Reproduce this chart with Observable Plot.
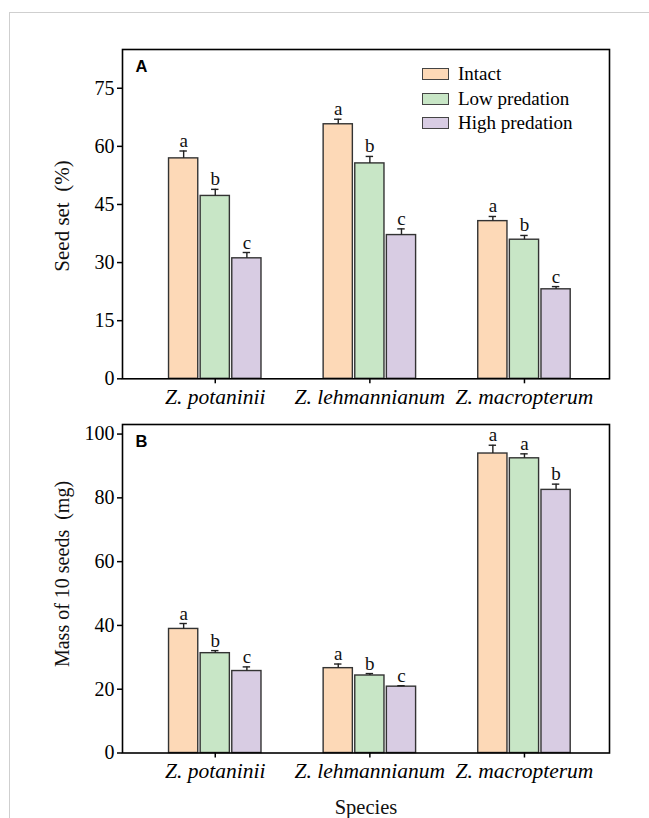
<!DOCTYPE html>
<html><head><meta charset="utf-8">
<script src="https://cdn.jsdelivr.net/npm/d3@7"></script>
<script src="https://cdn.jsdelivr.net/npm/@observablehq/plot@0.6"></script>
<style>
html,body{margin:0;padding:0;background:#fff;overflow:hidden;}
#page{position:relative;width:649px;height:818px;overflow:hidden;font-family:"Liberation Serif","Times New Roman",serif;}
#border{position:absolute;left:9px;top:12px;width:700px;height:900px;border:1px solid #cfcfcf;box-sizing:border-box;}
.panel{position:absolute;left:0;}
#pA{top:0;}
#pB{top:415px;}
.panel svg{overflow:visible;}
[aria-label="x-axis tick label"] text{font-family:"Liberation Serif","Times New Roman",serif !important;font-style:italic;}
[aria-label="y-axis tick label"] text{font-family:"Liberation Serif","Times New Roman",serif !important;}
#legend{position:absolute;left:422px;top:62px;}
.lg{position:relative;height:24.5px;}
.sw{position:absolute;left:0;top:6px;width:27px;height:12px;border:1.3px solid #444;box-sizing:border-box;}
.lt{position:absolute;left:36px;top:0;font-size:19px;line-height:24px;white-space:nowrap;color:#000;}
.ylab{position:absolute;line-height:22px;white-space:pre;color:#111;transform:translate(-50%,-50%) rotate(-90deg);}
</style>
</head><body>
<div id="page">
  <div id="border"></div>
  <div class="panel" id="pA"></div>
  <div class="panel" id="pB"></div>
  <div id="legend"></div>
</div>
<script>
// ---- data ----
const species = ["Z. potaninii", "Z. lehmannianum", "Z. macropterum"];
const treatments = ["Intact", "Low predation", "High predation"];
const treatmentColors = ["#fdd9b7", "#c8e6c6", "#d8cce3"];

// rows: species; columns: Intact, Low predation, High predation
const seedSetMean = [[56.9, 47.2, 31.1], [65.7, 55.6, 37.1], [40.7, 35.9, 23.1]];
const seedSetSE = [[1.9, 1.7, 1.5], [1.3, 1.8, 1.6], [1.2, 1.1, 0.7]];
const seedSetLetters = [["a", "b", "c"], ["a", "b", "c"], ["a", "b", "c"]];
const seedSetTicks = [0, 15, 30, 45, 60, 75];

const massMean = [[38.9, 31.3, 25.7], [26.6, 24.3, 20.8], [93.9, 92.4, 82.5]];
const massSE = [[1.7, 0.8, 1.3], [1.3, 0.6, 0.3], [2.6, 1.4, 1.8]];
const massLetters = [["a", "b", "c"], ["a", "b", "c"], ["a", "a", "b"]];
const massTicks = [0, 20, 40, 60, 80, 100];

// ---- layout (in species-index units) ----
const step = 0.2045, barW = 0.189, capHalf = 0.024;

function rowsOf(mean, se, letters) {
  const out = [];
  species.forEach((s, i) => treatments.forEach((t, k) => {
    out.push({species: s, treatment: t, i, k, c: i + (k - 1) * step,
      mean: mean[i][k], se: se[i][k], top: mean[i][k] + se[i][k], letter: letters[i][k]});
  }));
  return out;
}

const serif = "Liberation Serif, Times New Roman, serif";

function panel({mean, se, letters, ticks, yMax, tag, height, marginTop, marginBottom, xTitle}) {
  const rows = rowsOf(mean, se, letters);
  const marks = [
    Plot.rectY(rows, {x1: d => d.c - barW / 2, x2: d => d.c + barW / 2, y1: 0, y2: "mean",
      fill: "treatment", stroke: "#333", strokeWidth: 1.4}),
    Plot.ruleX(rows, {x: "c", y1: "mean", y2: "top", stroke: "#222", strokeWidth: 1.4}),
    Plot.ruleY(rows, {y: "top", x1: d => d.c - capHalf, x2: d => d.c + capHalf, stroke: "#222", strokeWidth: 1.4}),
    Plot.text(rows, {x: "c", y: "top", text: "letter", dy: -4, lineAnchor: "bottom", fontSize: 19, fill: "#111", fontFamily: serif}),
    Plot.axisY({ticks, tickSize: 5, tickPadding: 3, label: null, strokeWidth: 1.5, fontSize: 20, fontFamily: serif}),
    Plot.axisX({ticks: [0, 1, 2], tickFormat: i => species[i], tickSize: 5, tickPadding: 5, label: null,
      strokeWidth: 1.5, fontSize: 21.5, fontStyle: "italic", fontFamily: serif}),
    Plot.frame({stroke: "#000", strokeWidth: 1.6}),
    Plot.text([tag], {frameAnchor: "top-left", dx: 13, dy: 11, lineAnchor: "top", fontFamily: "Liberation Sans, Arial, sans-serif",
      fontWeight: "bold", fontSize: 16.5, fill: "#000"})
  ];
  if (xTitle) marks.push(Plot.text([xTitle], {frameAnchor: "bottom", dy: 54, lineAnchor: "middle", fontSize: 20.5, fill: "#111", fontFamily: serif}));
  return Plot.plot({
    width: 649, height, marginLeft: 122, marginRight: 40, marginTop, marginBottom,
    style: {fontFamily: serif, fontSize: "20px", color: "#000", background: "transparent"},
    x: {domain: [-0.6, 2.55]},
    y: {domain: [0, yMax]},
    color: {domain: treatments, range: treatmentColors},
    marks
  });
}

document.getElementById("pA").append(panel({
  mean: seedSetMean, se: seedSetSE, letters: seedSetLetters, ticks: seedSetTicks, yMax: 85,
  tag: "A", height: 415, marginTop: 49, marginBottom: 36.7
}));
document.getElementById("pB").append(panel({
  mean: massMean, se: massSE, letters: massLetters, ticks: massTicks, yMax: 103,
  tag: "B", height: 403, marginTop: 9, marginBottom: 65.5, xTitle: "Species"
}));

// y-axis titles
const page = document.getElementById("page");
[["Seed set  (%)", 61.7, 216, 21], ["Mass of 10 seeds  (mg)", 61.7, 574, 20]].forEach(([t, x, y, fs]) => {
  const d = document.createElement("div"); d.className = "ylab";
  d.style.left = x + "px"; d.style.top = y + "px"; d.style.fontSize = fs + "px"; d.textContent = t;
  page.append(d);
});

// legend
const lg = document.getElementById("legend");
treatments.forEach((t, k) => {
  const row = document.createElement("div"); row.className = "lg";
  const sw = document.createElement("div"); sw.className = "sw"; sw.style.background = treatmentColors[k];
  const tx = document.createElement("div"); tx.className = "lt"; tx.textContent = t;
  row.append(sw, tx); lg.append(row);
});
</script>
</body></html>
